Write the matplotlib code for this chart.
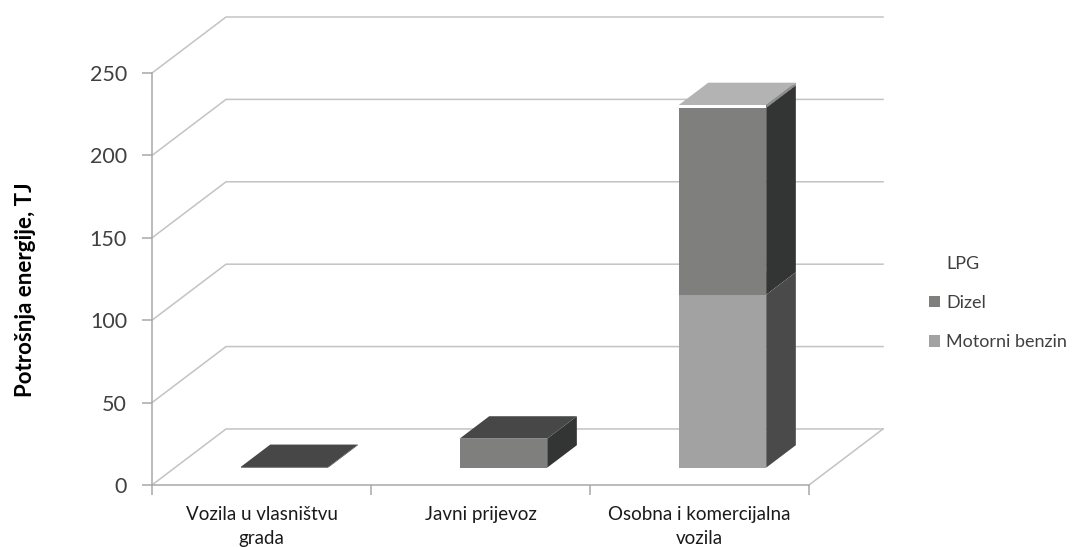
import matplotlib
matplotlib.use("Agg")
import matplotlib.pyplot as plt
from matplotlib.patches import Polygon, Patch

# --- data -----------------------------------------------------------------
categories = ["Vozila u vlasništvu\ngrada", "Javni prijevoz", "Osobna i komercijalna\nvozila"]
series_names = ["Motorni benzin", "Dizel", "LPG"]
motorni_benzin = [0.0, 0.0, 105.0]
dizel = [0.4, 17.6, 113.4]
lpg = [0.0, 0.0, 1.6]
y_ticks = [0, 50, 100, 150, 200, 250]

# --- styling --------------------------------------------------------------
FONT = ["Lato", "DejaVu Sans"]
TEXT_C = "#404040"
GRID_C = "#c3c3c3"
AXIS_C = "#a8a8a8"
# front / side / top face colours per series
FACE = {
    "Motorni benzin": ("#a1a2a1", "#4a4a4a", "#c8c8c8"),
    "Dizel": ("#7f7f7e", "#333534", "#474747"),
    "LPG": ("#ffffff", "#8e8e8e", "#b3b3b3"),
}
DX = 0.338      # oblique depth offset, category units
DY = 34.0       # oblique depth offset, value units
BAR_W = 0.40
F0, F1 = 0.31, 0.71   # bar front/back position within the depth

plt.rcParams["font.family"] = FONT

fig = plt.figure(figsize=(10.76, 5.47), dpi=100)
ax = fig.add_axes([152 / 1076, 62 / 547, 731 / 1076, 468 / 547])
n = len(categories)
x_lo, x_hi = -0.5, n - 0.5
ax.set_xlim(x_lo, x_hi + DX)
ax.set_ylim(0, y_ticks[-1] + DY)

# back wall / side wall gridlines
for v in y_ticks:
    ax.plot([x_lo, x_lo + DX, x_hi + DX], [v, v + DY, v + DY],
            color=GRID_C, lw=1.1, clip_on=False, zorder=1)
# right edge of the floor
ax.plot([x_hi, x_hi + DX], [0, DY], color=GRID_C, lw=1.1, clip_on=False, zorder=1)


def draw_block(xc, y0, y1, name):
    front, side, top = FACE[name]
    xl, xr = xc - BAR_W / 2, xc + BAR_W / 2
    a0x, a0y = F0 * DX, F0 * DY
    a1x, a1y = F1 * DX, F1 * DY
    ax.add_patch(Polygon([(xr + a0x, y0 + a0y), (xr + a1x, y0 + a1y),
                          (xr + a1x, y1 + a1y), (xr + a0x, y1 + a0y)],
                         closed=True, fc=side, ec="none", zorder=3))
    ax.add_patch(Polygon([(xl + a0x, y1 + a0y), (xr + a0x, y1 + a0y),
                          (xr + a1x, y1 + a1y), (xl + a1x, y1 + a1y)],
                         closed=True, fc=top, ec="none", zorder=3))
    ax.add_patch(Polygon([(xl + a0x, y0 + a0y), (xr + a0x, y0 + a0y),
                          (xr + a0x, y1 + a0y), (xl + a0x, y1 + a0y)],
                         closed=True, fc=front, ec="none", zorder=4))


stack = [motorni_benzin, dizel, lpg]
for i in range(n):
    base = 0.0
    for name, vals in zip(series_names, stack):
        v = vals[i]
        if v <= 0:
            continue
        draw_block(i, base, base + v, name)
        base += v

# axes: front value axis and floor edge
for s in ("top", "right"):
    ax.spines[s].set_visible(False)
ax.spines["left"].set_bounds(0, y_ticks[-1])
ax.spines["bottom"].set_bounds(x_lo, x_hi)
for s in ("left", "bottom"):
    ax.spines[s].set_color(AXIS_C)
    ax.spines[s].set_linewidth(1.1)

ax.set_yticks(y_ticks)
ax.set_yticklabels([str(t) for t in y_ticks])
ax.tick_params(axis="y", length=7, width=1.1, color=AXIS_C, pad=11,
               labelsize=15.5, labelcolor=TEXT_C)

ax.set_xticks(range(n))
ax.set_xticklabels(categories, linespacing=1.5)
ax.tick_params(axis="x", which="major", length=0, pad=15, labelsize=13.5,
               labelcolor="#1a1a1a")
ax.set_xticks([x_lo + k for k in range(n + 1)], minor=True)
ax.tick_params(axis="x", which="minor", length=7, width=1.1, color=AXIS_C)

fig.text(26 / 1076, 1 - 290 / 547, "Potrošnja energije, TJ", rotation=90,
         ha="center", va="center", fontsize=16, fontweight="bold", color="#000000")

# legend (top of the stack first)
handles = [Patch(fc=FACE[nm][0], ec="none", label=nm) for nm in reversed(series_names)]
fig.legend(handles=handles, loc="center left", bbox_to_anchor=(913 / 1076, 1 - 303 / 547),
           frameon=False, fontsize=13, labelcolor=TEXT_C, handlelength=0.6,
           handleheight=0.6, handletextpad=0.35, labelspacing=1.3)

fig.savefig("out.png", dpi=100, facecolor="white")
